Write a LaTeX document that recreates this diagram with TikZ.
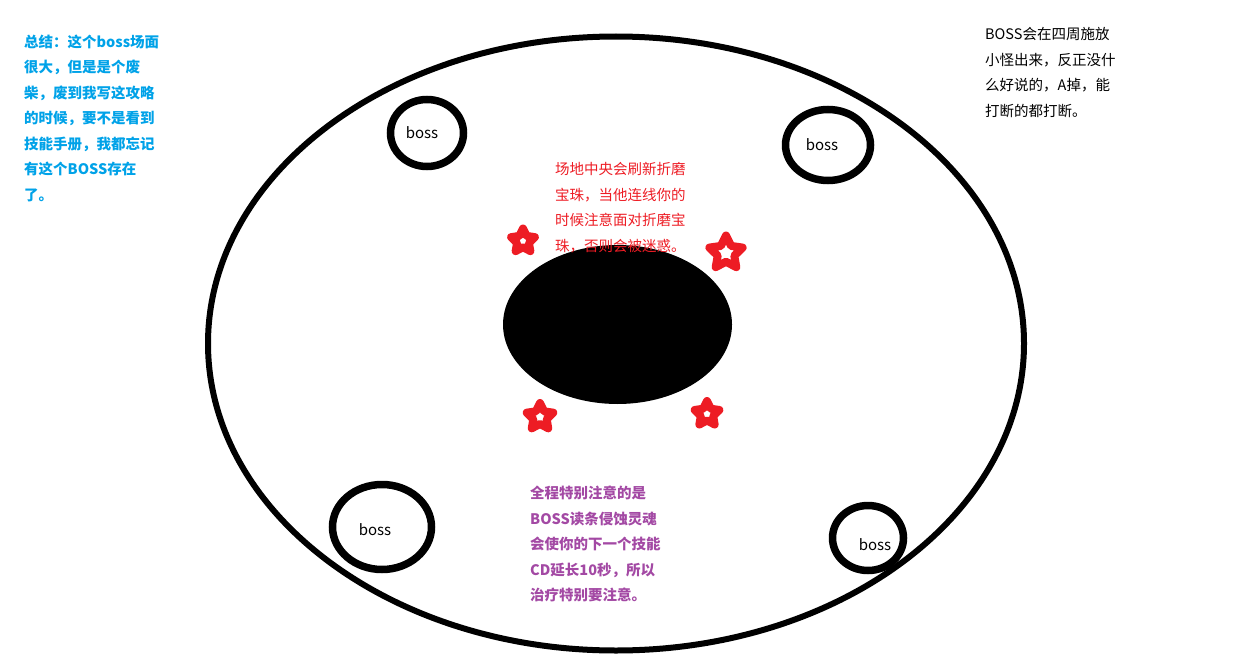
\documentclass[tikz,border=0pt]{standalone}
\usepackage{fontspec}
\setmainfont{Noto Sans CJK SC}
\usetikzlibrary{shapes.geometric}
\definecolor{noteblue}{HTML}{00A2E8}
\definecolor{notered}{HTML}{ED1C24}
\definecolor{notepurple}{HTML}{A349A4}
\begin{document}
\begin{tikzpicture}[x=1pt,y=-1pt,
    bossring/.style={line width=7.5pt},
    bosslabel/.style={inner sep=0pt, font=\fontsize{15}{18}\selectfont},
    starmark/.style={star, star points=5, star point ratio=2.0, draw=notered,
      line width=8pt, line join=round, fill=white, inner sep=0pt},
    note/.style={anchor=west, align=left, inner sep=0pt,
      font=\fontsize{14.5}{25.5}\selectfont}]
  \useasboundingbox (0,0) rectangle (1234,661);

  % arena and the pit in the middle
  \draw[line width=6pt] (616,343.5) ellipse [x radius=408, y radius=307];
  \fill (617.5,324.5) ellipse [x radius=114.5, y radius=79.5];

  % the four bosses round the edge
  \draw[bossring] (427,133) ellipse [x radius=36.5, y radius=33.5];
  \draw[bossring] (828,145) ellipse [x radius=42.5, y radius=35.5];
  \draw[bossring] (382,527) ellipse [x radius=49.5, y radius=42.5];
  \draw[bossring] (868,538) ellipse [x radius=35.5, y radius=32.5];
  \node[bosslabel] (bossNW) at (422,133) {boss};
  \node[bosslabel] (bossNE) at (822,145) {boss};
  \node[bosslabel] (bossSW) at (375,530) {boss};
  \node[bosslabel] (bossSE) at (875,545) {boss};

  % orbs of torment
  \node[starmark, minimum size=25pt] (orbNW) at (523,241) {};
  \node[starmark, minimum size=35pt] (orbNE) at (726,253) {};
  \node[starmark, minimum size=28pt] (orbSW) at (540,417) {};
  \node[starmark, minimum size=26pt] (orbSE) at (707,414) {};

  % notes
  \node[note, text=noteblue, font=\fontsize{14.5}{25.5}\selectfont\bfseries] (summary) at (24,118)
    {总结：这个boss场面\\很大，但是是个废\\柴，废到我写这攻略\\的时候，要不是看到\\技能手册，我都忘记\\有这个BOSS存在\\了。};
  \node[note] (adds) at (985,72.5)
    {BOSS会在四周施放\\小怪出来，反正没什\\么好说的，A掉，能\\打断的都打断。};
  \node[note, text=notered] (orbnote) at (555,207.5)
    {场地中央会刷新折磨\\宝珠，当他连线你的\\时候注意面对折磨宝\\珠，否则会被迷惑。};
  \node[note, text=notepurple, font=\fontsize{14.5}{25.5}\selectfont\bfseries] (cdnote) at (530,544)
    {全程特别注意的是\\BOSS读条侵蚀灵魂\\会使你的下一个技能\\CD延长10秒，所以\\治疗特别要注意。};
\end{tikzpicture}
\end{document}
